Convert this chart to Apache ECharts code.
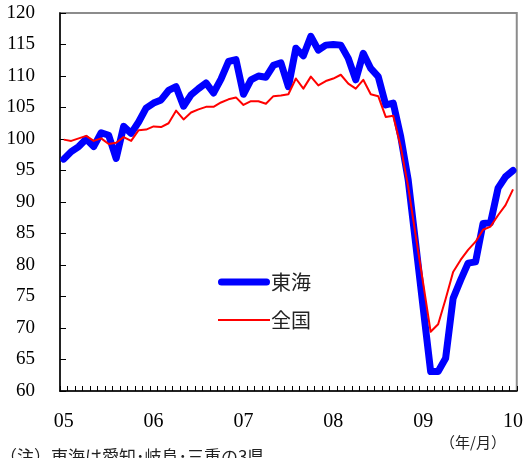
<!DOCTYPE html>
<html><head><meta charset="utf-8">
<script src="https://cdn.jsdelivr.net/npm/echarts@6/dist/echarts.min.js"></script>
<style>html,body{margin:0;padding:0;background:#fff}#c{width:526px;height:458px}</style>
</head><body><div id="c"></div>
<script>
const years = ['05','06','07','08','09','10'];
const seriesNames = ['東海','全国'];
const tokai = [96.8,98.0,98.8,100.0,98.8,101.0,100.6,96.9,102.0,100.9,102.7,104.9,
  105.7,106.2,107.7,108.3,105.2,107.0,108.0,108.9,107.3,109.5,112.3,112.6,
  107.1,109.4,110.0,109.8,111.7,112.1,108.3,114.4,113.2,116.3,114.1,114.9,
  115.0,114.9,112.8,109.4,113.6,111.2,109.9,105.4,105.7,100.4,93.5,83.4,
  73.2,63.1,63.1,65.2,74.7,77.6,80.3,80.5,86.6,86.7,92.2,94.0,
  95.0];
const zenkoku = [99.9,99.7,100.1,100.5,99.7,100.1,99.2,99.4,100.3,99.7,101.4,101.5,
  102.0,101.9,102.5,104.5,103.1,104.2,104.7,105.1,105.1,105.8,106.3,106.6,
  105.4,106.0,106.0,105.6,106.8,106.9,107.1,109.6,108.0,109.9,108.5,109.2,
  109.6,110.2,108.8,108.0,109.4,107.1,106.8,103.5,103.7,98.8,92.4,84.7,
  77.1,69.4,70.6,74.6,78.9,80.8,82.4,83.7,85.6,86.1,87.9,89.5,
  92.0];
const unitLabel = '（年/月）';
const noteText = '（注）東海は愛知･岐阜･三重の3県';

const categories = [];
years.forEach((y, yi) => {
  for (let m = 1; m <= 12; m++) {
    if (yi === years.length - 1 && m > 1) break;
    categories.push(y + '/' + String(m).padStart(2, '0'));
  }
});

const serif = '"Liberation Serif","Times New Roman",serif';
const jp = '"Noto Sans CJK JP","Noto Sans",sans-serif';
const chart = echarts.init(document.getElementById('c'), null, {renderer: 'canvas'});
chart.setOption({
  animation: false,
  backgroundColor: '#fff',
  grid: {left: 60, right: 7, top: 13, bottom: 67, show: true, borderColor: '#8c8c8c', borderWidth: 2},
  legend: {
    orient: 'vertical', left: 213, top: 267, itemWidth: 52, itemHeight: 16, itemGap: 18,
    symbolKeepAspect: true,
    data: [
      {name: seriesNames[0], icon: 'path://M3.5,0 H48.5 A3.5,3.5 0 0 1 48.5,7 H3.5 A3.5,3.5 0 0 1 3.5,0 Z'},
      {name: seriesNames[1], icon: 'path://M0,0 H52 V2.2 H0 Z'}
    ],
    textStyle: {fontFamily: jp, fontSize: 20, color: '#222', padding: [0, 0, 0, -4]}
  },
  xAxis: {
    type: 'category', data: categories, boundaryGap: true,
    axisLine: {lineStyle: {color: '#000', width: 1.5}},
    axisTick: {show: true, inside: true, length: 5, interval: 0, lineStyle: {color: '#000'}},
    axisLabel: {interval: 11, margin: 21, fontFamily: serif, fontSize: 20, color: '#000',
      formatter: v => v.split('/')[0]},
    splitLine: {show: false}
  },
  yAxis: {
    type: 'value', min: 60, max: 120, interval: 5,
    axisLine: {show: true, lineStyle: {color: '#000', width: 1.5}},
    axisTick: {show: true, inside: true, length: 6, lineStyle: {color: '#000'}},
    axisLabel: {margin: 25, fontFamily: serif, fontSize: 19, color: '#000'},
    splitLine: {show: false}
  },
  graphic: [
    {type: 'text', left: 440, top: 435, style: {text: unitLabel, font: '15px ' + jp, fill: '#222'}},
    {type: 'text', left: 0, top: 448, style: {text: noteText, font: '17px ' + jp, fill: '#222'}}
  ],
  series: [
    {name: seriesNames[0], type: 'line', data: tokai, showSymbol: false, symbol: 'none',
      lineStyle: {color: '#0000ff', width: 7, cap: 'round', join: 'round'}, itemStyle: {color: '#0000ff'}, z: 2},
    {name: seriesNames[1], type: 'line', data: zenkoku, showSymbol: false, symbol: 'none',
      lineStyle: {color: '#ff0000', width: 2, join: 'round'}, itemStyle: {color: '#ff0000'}, z: 3}
  ]
});
</script></body></html>
